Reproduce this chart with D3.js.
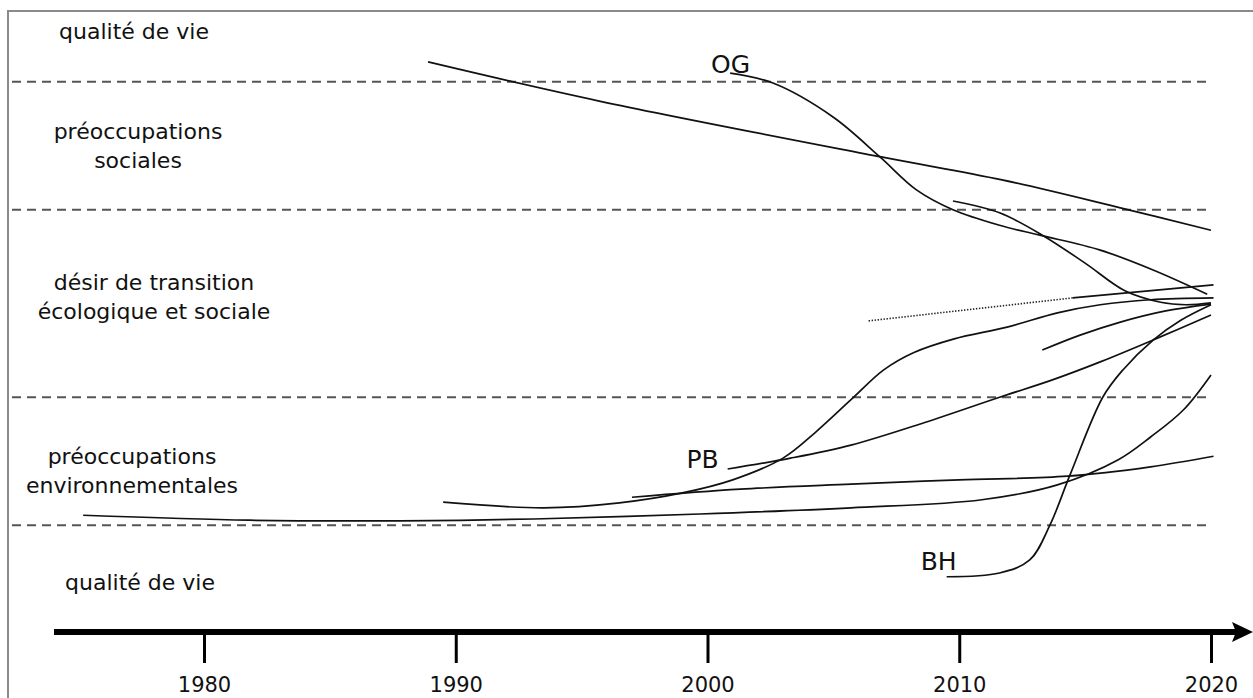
<!DOCTYPE html>
<html>
<head>
<meta charset="utf-8">
<script src="https://cdn.jsdelivr.net/npm/d3@7"></script>
<style>
  body { margin: 0; background: #fff; }
  svg { display: block; }
</style>
</head>
<body>
<div id="chart"></div>
<script>
// years on the time axis
const tickYears = [1980, 1990, 2000, 2010, 2020];

// band limits (0 = axis, 100 = top of frame)
const bandLimits = [17.2, 37.8, 68.0, 88.6];
const bandNames = [
    ["qualité de vie"],
    ["préoccupations", "environnementales"],
    ["désir de transition", "écologique et sociale"],
    ["préoccupations", "sociales"],
    ["qualité de vie"]
];

// trajectories, [year, level]
const socialTrend = [[1988.9, 91.8], [1995.7, 85.5], [2006.9, 76.5], [2011.7, 72.8], [2016.4, 68.3], [2020.0, 64.7]];
const ogCurve = [[2000.9, 90.0], [2002.6, 88.4], [2005.0, 82.9], [2006.85, 76.5], [2008.3, 71.2], [2009.75, 68.0],
    [2011.6, 65.5], [2013.2, 63.9], [2015.6, 61.5], [2017.7, 58.3], [2019.85, 54.4]];
const socialLate = [[2009.75, 69.4], [2011.6, 67.5], [2013.3, 63.9], [2015.0, 59.4], [2016.6, 54.9], [2018.0, 53.1],
    [2019.0, 52.7], [2020.0, 53.0]];
const transitionDotted = [[2006.4, 50.1], [2014.5, 53.8]];
const transitionSolid = [[2014.5, 53.8], [2020.1, 55.9]];
const sCurve = [[1989.5, 20.9], [1993.5, 20.0], [1996.5, 20.8], [1999.0, 22.4], [2001.0, 24.5], [2003.0, 28.0],
    [2004.3, 32.2], [2005.7, 37.4], [2007.0, 42.2], [2008.2, 45.0], [2009.8, 47.2], [2011.9, 49.1],
    [2013.9, 51.4], [2015.6, 52.7], [2017.6, 53.5], [2020.1, 53.8]];
const pbCurve = [[2000.8, 26.25], [2003.3, 28.0], [2005.7, 30.1], [2008.6, 33.7], [2011.6, 37.8], [2013.7, 40.6],
    [2015.6, 43.5], [2017.8, 47.2], [2020.0, 51.05]];
const shortRise = [[2013.3, 45.4], [2014.8, 47.8], [2016.4, 49.9], [2018.2, 51.7], [2020.0, 52.8]];
const bhCurve = [[2009.5, 8.9], [2011.6, 9.5], [2012.8, 11.6], [2013.6, 17.2], [2014.4, 25.3], [2015.7, 37.8],
    [2016.5, 42.2], [2017.7, 47.0], [2018.8, 50.2], [2020.0, 52.7]];
const envFlat = [[1997.0, 21.7], [2001.3, 23.0], [2005.7, 23.8], [2010.0, 24.5], [2014.3, 25.1], [2017.6, 26.6], [2020.1, 28.3]];
const envLong = [[1975.2, 18.8], [1981.8, 18.0], [1987.8, 17.9], [1993.1, 18.2], [1999.7, 19.0], [2005.7, 20.0],
    [2010.9, 21.3], [2013.9, 23.7], [2016.3, 27.7], [2017.6, 31.4], [2018.9, 35.75], [2020.0, 41.4]];

const width = 1253;
const height = 698;
const font = "'DejaVu Sans', Verdana, sans-serif";

let svg = d3.select('#chart')
    .append('svg')
    .attr('width', width)
    .attr('height', height)
;

let x = d3.scaleLinear().domain([1980, 2020]).range([204, 1211]);
let y = d3.scaleLinear().domain([0, 100]).range([632, 11]);

// frame
svg.append('rect')
    .attr('x', 8)
    .attr('y', 11)
    .attr('width', width + 20)
    .attr('height', height + 20)
    .style('fill', 'none')
    .style('stroke', '#8a8a8a')
    .style('stroke-width', 2)
;

// dashed band limits
svg.selectAll('line.band')
    .data(bandLimits)
    .enter()
    .append('line')
    .attr('class', 'band')
    .attr('x1', 12)
    .attr('x2', x(2020))
    .attr('y1', d => y(d))
    .attr('y2', d => y(d))
    .style('stroke', '#555')
    .style('stroke-width', 2)
    .style('stroke-dasharray', '9,6')
;

// band names, centred in their band
let bandEdges = [0].concat(bandLimits).concat([100]);
let labelX = [140, 132, 154, 138, 134];
let labelShift = [4, 10, -6, 0, -14];
bandNames.forEach((lines, i) => {
    let mid = (y(bandEdges[i]) + y(bandEdges[i + 1])) / 2 + labelShift[i];
    let t = svg.append('text')
        .attr('x', labelX[i])
        .attr('y', mid - (lines.length - 1) * 14 + 7)
        .attr('text-anchor', 'middle')
        .style('font-family', font)
        .style('font-size', '22px')
        .style('fill', '#111')
    ;
    lines.forEach((s, j) => {
        t.append('tspan')
            .attr('x', labelX[i])
            .attr('dy', j === 0 ? 0 : 29)
            .text(s);
    });
});

// curves
let line = d3.line()
    .x(d => x(d[0]))
    .y(d => y(d[1]))
    .curve(d3.curveCatmullRom.alpha(0.5))
;
let solid = [socialTrend, ogCurve, socialLate, transitionSolid, sCurve, pbCurve, shortRise, bhCurve, envFlat, envLong];
svg.selectAll('path.traj')
    .data(solid)
    .enter()
    .append('path')
    .attr('class', 'traj')
    .attr('d', line)
    .style('fill', 'none')
    .style('stroke', '#111')
    .style('stroke-width', 1.7)
;
svg.append('path')
    .attr('d', line(transitionDotted))
    .style('fill', 'none')
    .style('stroke', '#222')
    .style('stroke-width', 1.6)
    .style('stroke-dasharray', '1.4,1.6')
;

// curve names next to their start
let names = [
    {text: 'OG', pt: ogCurve[0], dx: 20, dy: 0},
    {text: 'PB', pt: pbCurve[0], dx: -9, dy: -1},
    {text: 'BH', pt: bhCurve[0], dx: 10, dy: -7}
];
svg.selectAll('text.name')
    .data(names)
    .enter()
    .append('text')
    .attr('class', 'name')
    .attr('x', d => x(d.pt[0]) + d.dx)
    .attr('y', d => y(d.pt[1]) + d.dy)
    .attr('text-anchor', 'end')
    .style('font-family', font)
    .style('font-size', '25px')
    .style('fill', '#111')
    .text(d => d.text)
;

// time axis
let axis = d3.axisBottom(x)
    .tickValues(tickYears)
    .tickFormat(d3.format('d'))
    .tickSize(31)
    .tickPadding(14)
;
let gAxis = svg.append('g')
    .attr('transform', `translate(0, ${y(0)})`)
    .call(axis)
;
gAxis.select('.domain').remove();
gAxis.selectAll('.tick line')
    .style('stroke', '#000')
    .style('stroke-width', 3)
;
gAxis.selectAll('.tick text')
    .style('font-family', font)
    .style('font-size', '21px')
    .style('fill', '#111')
;
svg.append('line')
    .attr('x1', 54)
    .attr('x2', width - 16)
    .attr('y1', y(0))
    .attr('y2', y(0))
    .style('stroke', '#000')
    .style('stroke-width', 6)
;
svg.append('path')
    .attr('d', `M${width},${y(0)} L${width - 21},${y(0) - 10} L${width - 17},${y(0)} L${width - 21},${y(0) + 10} Z`)
    .style('fill', '#000')
;
</script>
</body>
</html>
